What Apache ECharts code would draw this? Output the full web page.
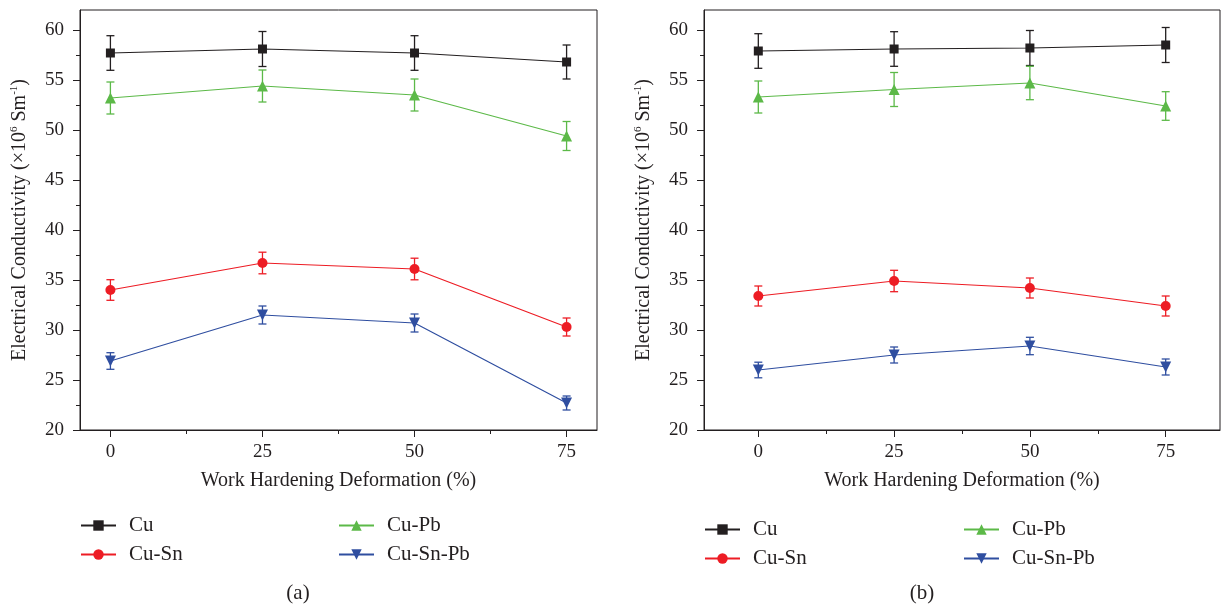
<!DOCTYPE html>
<html>
<head>
<meta charset="utf-8">
<script src="https://cdn.jsdelivr.net/npm/echarts@6/dist/echarts.min.js"></script>
<style>
html,body{margin:0;padding:0;background:#fff;}
#chart{width:1222px;height:607px;}
</style>
</head>
<body>
<div id="chart"></div>
<script>
// ---- data ----
const deformation = [0, 25, 50, 75];
const seriesNames = ['Cu', 'Cu-Sn', 'Cu-Pb', 'Cu-Sn-Pb'];
const xTickValues = [0, 25, 50, 75];
const xMinorValues = [12.5, 37.5, 62.5];
const yTickValues = [20, 25, 30, 35, 40, 45, 50, 55, 60];
const yMinorValues = [22.5, 27.5, 32.5, 37.5, 42.5, 47.5, 52.5, 57.5];

// panel (a)
const aCu = [57.7, 58.1, 57.7, 56.8];
const aCuErr = [1.73, 1.75, 1.73, 1.7];
const aCuSn = [34.0, 36.7, 36.1, 30.3];
const aCuSnErr = [1.03, 1.08, 1.08, 0.9];
const aCuPb = [53.2, 54.4, 53.5, 49.4];
const aCuPbErr = [1.6, 1.6, 1.6, 1.45];
const aCuSnPb = [26.9, 31.5, 30.7, 22.7];
const aCuSnPbErr = [0.83, 0.9, 0.9, 0.7];

// panel (b)
const bCu = [57.9, 58.1, 58.2, 58.5];
const bCuErr = [1.73, 1.73, 1.75, 1.75];
const bCuSn = [33.4, 34.9, 34.2, 32.4];
const bCuSnErr = [1.0, 1.07, 1.0, 1.0];
const bCuPb = [53.3, 54.05, 54.7, 52.4];
const bCuPbErr = [1.6, 1.7, 1.67, 1.43];
const bCuSnPb = [26.0, 27.5, 28.4, 26.3];
const bCuSnPbErr = [0.78, 0.8, 0.87, 0.8];

// ---- styling ----
const FONT = '"Liberation Serif", "Times New Roman", serif';
const TXT = '#231f20';
const colors = {'Cu': '#231f20', 'Cu-Sn': '#ed1c24', 'Cu-Pb': '#5cb948', 'Cu-Sn-Pb': '#2f4ea0'};
const symbols = {'Cu': ['rect', 9, 0], 'Cu-Sn': ['circle', 10, 0], 'Cu-Pb': ['triangle', 11, 0], 'Cu-Sn-Pb': ['triangle', 11, 180]};

const panels = [
  {grid: {left: 80, top: 10, right: 625, bottom: 177}, xmin: -5, xmax: 80,
   data: {'Cu': [aCu, aCuErr], 'Cu-Sn': [aCuSn, aCuSnErr], 'Cu-Pb': [aCuPb, aCuPbErr], 'Cu-Sn-Pb': [aCuSnPb, aCuSnPbErr]},
   legendLeft: [80, 338], legendTop: 515, caption: ['(a)', 298]},
  {grid: {left: 704, top: 10, right: 2, bottom: 177}, xmin: -10, xmax: 85,
   data: {'Cu': [bCu, bCuErr], 'Cu-Sn': [bCuSn, bCuSnErr], 'Cu-Pb': [bCuPb, bCuPbErr], 'Cu-Sn-Pb': [bCuSnPb, bCuSnPbErr]},
   legendLeft: [704, 963], legendTop: 519, caption: ['(b)', 922]}
];

const grids = [], xAxes = [], yAxes = [], series = [], legends = [], graphics = [];

panels.forEach((p, i) => {
  grids.push(Object.assign({show: true, borderColor: '#231f20', borderWidth: 1, backgroundColor: 'transparent'}, p.grid));
  xAxes.push({
    gridIndex: i, type: 'value', min: p.xmin, max: p.xmax, position: 'bottom',
    axisLine: {show: true, onZero: false, lineStyle: {color: '#231f20', width: 1}},
    axisTick: {show: true, length: 7, customValues: xTickValues, lineStyle: {color: '#231f20'}},
    axisLabel: {customValues: xTickValues, fontFamily: FONT, fontSize: 19, color: TXT, margin: 13},
    splitLine: {show: false},
    name: 'Work Hardening Deformation (%)', nameLocation: 'middle', nameGap: 41,
    nameTextStyle: {fontFamily: FONT, fontSize: 20, color: TXT}
  });
  xAxes.push({
    gridIndex: i, type: 'value', min: p.xmin, max: p.xmax, position: 'bottom',
    axisLine: {show: false, onZero: false},
    axisTick: {show: true, length: 4, customValues: xMinorValues, lineStyle: {color: '#231f20'}},
    axisLabel: {show: false}, splitLine: {show: false}
  });
  yAxes.push({
    gridIndex: i, type: 'value', min: 20, max: 62, position: 'left',
    axisLine: {show: true, onZero: false, lineStyle: {color: '#231f20', width: 1}},
    axisTick: {show: true, length: 7, customValues: yTickValues, lineStyle: {color: '#231f20'}},
    axisLabel: {customValues: yTickValues, fontFamily: FONT, fontSize: 19, color: TXT, margin: 16},
    splitLine: {show: false},
    name: '{t|Electrical Conductivity (×10}{s|6}{t| Sm}{s|-1}{t|)}',
    nameLocation: 'middle', nameGap: 49, nameRotate: 90,
    nameTextStyle: {
      rich: {
        t: {fontFamily: FONT, fontSize: 20, color: TXT, lineHeight: 22},
        s: {fontFamily: FONT, fontSize: 11, color: TXT, lineHeight: 12, verticalAlign: 'top'}
      }
    }
  });
  yAxes.push({
    gridIndex: i, type: 'value', min: 20, max: 62, position: 'left',
    axisLine: {show: false, onZero: false},
    axisTick: {show: true, length: 4, customValues: yMinorValues, lineStyle: {color: '#231f20'}},
    axisLabel: {show: false}, splitLine: {show: false}
  });

  seriesNames.forEach(name => {
    const [vals, errs] = p.data[name];
    const c = colors[name];
    const [sym, size, rot] = symbols[name];
    series.push({
      type: 'custom', xAxisIndex: 2 * i, yAxisIndex: 2 * i, z: 2,
      silent: true,
      data: deformation.map((x, k) => [x, vals[k], errs[k]]),
      encode: {x: 0, y: 1},
      renderItem: (params, api) => {
        const xv = api.value(0), yv = api.value(1), e = api.value(2);
        const top = api.coord([xv, yv + e]);
        const bot = api.coord([xv, yv - e]);
        const w = 4;
        const st = {stroke: c, lineWidth: 1.3};
        return {type: 'group', children: [
          {type: 'line', shape: {x1: top[0], y1: top[1], x2: bot[0], y2: bot[1]}, style: st},
          {type: 'line', shape: {x1: top[0] - w, y1: top[1], x2: top[0] + w, y2: top[1]}, style: st},
          {type: 'line', shape: {x1: bot[0] - w, y1: bot[1], x2: bot[0] + w, y2: bot[1]}, style: st}
        ]};
      }
    });
    series.push({
      name: name, type: 'line', xAxisIndex: 2 * i, yAxisIndex: 2 * i, z: 3,
      data: deformation.map((x, k) => [x, vals[k]]),
      symbol: sym, symbolSize: size, symbolRotate: rot,
      lineStyle: {color: c, width: 1.2},
      itemStyle: {color: c},
      showAllSymbol: true,
      animation: false
    });
  });

  [[['Cu', 'Cu-Sn'], p.legendLeft[0]], [['Cu-Pb', 'Cu-Sn-Pb'], p.legendLeft[1]]].forEach(([names, left]) => {
    legends.push({
      data: names, orient: 'vertical', left: left, top: p.legendTop, padding: 0,
      itemWidth: 35, itemHeight: 13, itemGap: 8,
      textStyle: {fontFamily: FONT, fontSize: 21, color: TXT, padding: [0, 0, 0, 8]},
      selectedMode: false
    });
  });
  graphics.push({
    type: 'text', x: p.caption[1], y: 593,
    style: {text: p.caption[0], fontFamily: FONT, fontSize: 21, fill: TXT, align: 'center', verticalAlign: 'middle'}
  });
});

const chart = echarts.init(document.getElementById('chart'), null, {renderer: 'canvas'});
chart.setOption({
  backgroundColor: '#ffffff',
  animation: false,
  grid: grids,
  xAxis: xAxes,
  yAxis: yAxes,
  legend: legends,
  series: series,
  graphic: graphics
});
</script>
</body>
</html>
